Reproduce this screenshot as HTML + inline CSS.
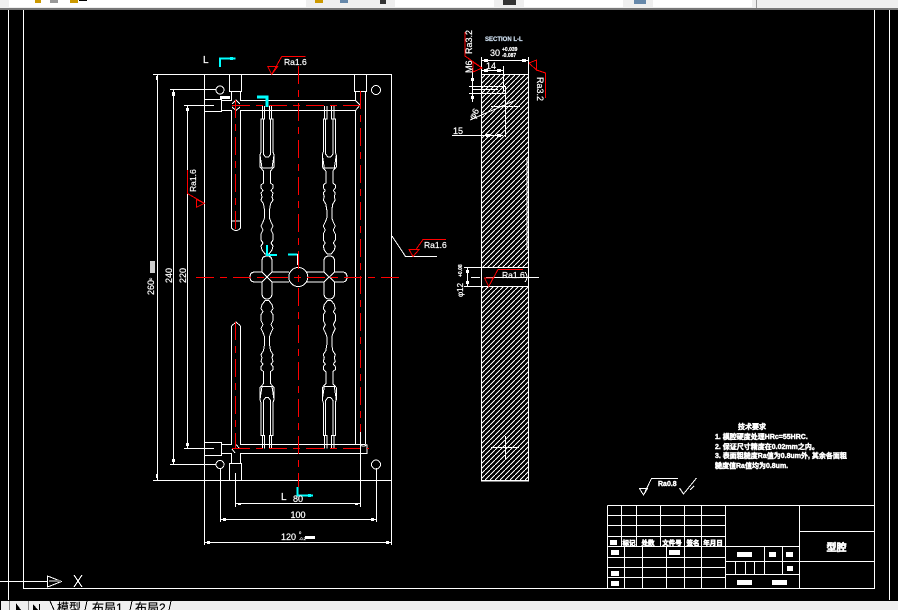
<!DOCTYPE html>
<html><head><meta charset="utf-8"><style>
html,body{margin:0;padding:0;background:#000;width:898px;height:610px;overflow:hidden}
svg{display:block;shape-rendering:crispEdges}
text{font-family:"Liberation Sans","Noto Sans CJK SC",sans-serif;fill:#fff;font-size:10px;stroke:#fff;stroke-width:.2}
.w{stroke:#fff;fill:none;stroke-width:1}
.r{stroke:#f00;fill:none;stroke-width:1}
.d{stroke:#f00;fill:none;stroke-width:1;stroke-dasharray:18 6 7 6}
.c{stroke:#0ff;fill:none;stroke-width:2}
.cn{font-size:7px;font-weight:bold;stroke:#fff;stroke-width:.45}
.t{font-size:6.500px;font-weight:bold;text-anchor:middle;stroke:#fff;stroke-width:.6}
</style></head><body>
<svg width="898" height="610" viewBox="0 0 898 610" xmlns="http://www.w3.org/2000/svg">
<defs>
<pattern id="h" width="5" height="5" patternUnits="userSpaceOnUse">
<rect width="5" height="5" fill="#000"/><path d="M0 5 5 0" stroke="#fff" stroke-width="1.100" fill="none"/>
</pattern>
<g id="run" class="w">
<path d="M-4.700 106V119H-6V152L-7 155V167L-3.500 171V183L-6 185V188L-4 190.500-6 193-5 197-6 200-3.500 204-2.500 210V218L-4 222-6 226-4 230-6 234V240L-4 243-6 246-5 250-2 254H2L5 250 6 246 4 243 6 240V234L4 230 6 226 4 222 2.500 218V210L3.500 204 6 200 5 197 6 193 4 190.500 6 188V185L3.500 183V171L7 167V155L6 152V119H4.700V106"/>
<path d="M-2.300 106V119H-3.700V154L-1.500 157H1.500L3.700 154V119H2.300V106"/>
<path d="M-7 155-5 168H5L7 155"/>
</g>
</defs>
<rect width="898" height="610" fill="#000"/>

<!-- toolbar -->
<rect x="0" y="0" width="898" height="10" fill="#efefef"/>
<rect x="0" y="8" width="898" height="2" fill="#777"/>
<rect x="9" y="0" width="297" height="7" fill="#fff"/>
<rect x="395" y="0" width="99" height="7" fill="#fff"/>
<rect x="524" y="0" width="99" height="7" fill="#fff"/>
<rect x="653" y="0" width="99" height="7" fill="#fff"/>
<rect x="756" y="0" width="1" height="8" fill="#999"/>
<rect x="35" y="0" width="6" height="3" fill="#c90"/>
<rect x="50" y="0" width="8" height="3" fill="#999"/>
<rect x="70" y="0" width="8" height="3" fill="#c90"/>
<rect x="79" y="0" width="8" height="1" fill="#000"/>
<rect x="315" y="0" width="8" height="3" fill="#c90"/>
<rect x="340" y="0" width="8" height="3" fill="#68a"/>
<rect x="380" y="0" width="6" height="4" fill="#333"/>
<rect x="503" y="0" width="13" height="5" fill="#333"/>
<rect x="634" y="0" width="12" height="4" fill="#68a"/>

<!-- frames -->
<path class="w" d="M8.500 10V600M23.500 10V588.500H874.500V10M889.500 10V600"/>

<!-- UCS icon -->
<path class="w" d="M0 581.500H47M47.500 576V587L61.500 581.500Z"/>
<path d="M49 580H61V582H49Z" fill="#777"/>
<path class="w" d="M74 575 82 587M82 575 74 587"/>

<!-- main plate -->
<g class="w">
<path d="M204.500 74.500H391.500V480.500H204.500Z"/>
<path d="M153 74.500H204M153 480.500H204"/>
<path d="M157.500 74.500V480.500M173.500 89.500V464.500M187.500 105.500V448.500"/>
<path d="M170 89.500H216M170 464.500H216M184 105.500H214M184 448.500H214"/>
<path d="M204.500 99.500H221.500V111.500H204.500M204.500 442.500H221.500V455.500H204.500"/>
<path d="M229.500 74.500V91.500H241.500V74.500M354.500 74.500V91.500H366.500V74.500M229.500 480.500V463.500H241.500V480.500"/>
<path d="M221 100.500H231.500V91.500M240.500 91.500V100.500H355.500V91.500M365.500 91.500V444"/>
<path d="M221 110.500H231.500V228M240.500 228V110.500H355.500V444.500"/>
<path d="M221 444.500H231.500V326M240.500 326V444.500H365.500M221 453.500H231.500V463.500M240.500 463.500V453.500H367V444.500"/>
</g>
<path class="w" d="M231.500 228Q236 233 240.500 228M231.500 326L236 322 240.500 326M232 221H240"/>
<path class="w" d="M232 104 236 100M240 104 236 100M232 107 236 110.500M240 107 236 110.500M355.500 100.500 360 105 355.500 110.500M232 449 235 453M240 449 236 444.500M360 444.500Q363 448 367 444.500"/>
<circle class="w" cx="220" cy="90" r="4"/><circle class="w" cx="376" cy="90" r="4.500"/>
<circle class="w" cx="220" cy="464.500" r="4"/><circle class="w" cx="376" cy="464.500" r="4.500"/>
<rect x="220" y="96" width="10" height="3" fill="#fff"/>

<!-- runners -->
<use href="#run" transform="translate(267,0)"/>
<use href="#run" transform="translate(329.300,0)"/>
<use href="#run" transform="matrix(1,0,0,-1,267,554.600)"/>
<use href="#run" transform="matrix(1,0,0,-1,329.300,554.600)"/>

<!-- crosses -->
<path class="w" d="M262 272V261Q262 256 267 256Q272 256 272 261V272L289 272M289 282H272V293Q272 299 267 299Q262 299 262 293V282H255Q250 282 250 277Q250 272 255 272H262"/>
<path class="w" d="M307 272H324V261Q324 256 329.300 256Q334.500 256 334.500 261V272H342Q347 272 347 277Q347 282 342 282H334.500V293Q334.500 299 329.300 299Q324 299 324 293V282H307"/>
<path class="w" d="M262 272 272 282M272 272 262 282M324 272 334.500 282M334.500 272 324 282"/>
<circle class="w" cx="298.300" cy="277" r="9.500"/>

<!-- red centre lines -->
<path class="d" d="M298.500 66V487"/>
<path class="d" d="M232 105.500H363"/>
<path class="d" d="M232 448.500H369"/>
<path class="d" d="M196 277.500H400"/>
<path class="d" d="M235.500 100V231"/>
<path class="d" d="M235.500 322V448"/>
<path class="d" d="M360.500 91V432"/>

<!-- cyan section marks -->
<path class="c" d="M220 67V58.500H235.500"/><rect x="230" y="57" width="3" height="3" fill="#0ff"/>
<path class="c" style="stroke-width:3" d="M257 97H267V107"/>
<path class="c" d="M267 245V255H277"/>
<path class="c" d="M288 254.500H297.500"/><path class="w" d="M297.500 254V265"/>
<path class="c" d="M297.500 487V495.500H313"/><rect x="308" y="494" width="3" height="3" fill="#0ff"/>
<text x="203" y="63" style="font-size:10px">L</text>
<text x="281" y="500" style="font-size:10px">L</text>

<!-- bottom dims -->
<g class="w">
<path d="M235.500 473V507M360.500 432V507M235.500 503.500H360.500"/>
<path d="M220.500 468V522M376.500 468V522M220.500 519.500H376.500"/>
<path d="M204.500 480V545M391.500 480V545M204.500 542.500H391.500"/>
</g>
<g fill="#fff">
<rect x="238" y="503" width="3" height="2"/><rect x="355" y="503" width="3" height="2"/>
<rect x="223" y="518" width="3" height="3"/><rect x="371" y="518" width="3" height="3"/>
<rect x="207" y="541" width="3" height="3"/><rect x="386" y="541" width="3" height="3"/>
<rect x="172" y="92" width="3" height="4"/><rect x="172" y="459" width="3" height="3"/>
<rect x="186" y="108" width="3" height="3"/><rect x="186" y="443" width="3" height="3"/>
<rect x="156" y="76" width="2" height="4"/><rect x="156" y="474" width="2" height="4"/>
</g>
<text x="298" y="502" text-anchor="middle" style="font-size:9px">80</text>
<text x="298" y="518" text-anchor="middle" style="font-size:9px">100</text>
<text x="281" y="540" style="font-size:9px">120</text>
<text x="299" y="534" style="font-size:4px">0</text>
<text x="299" y="540" style="font-size:4px">-0.2</text>
<rect x="305" y="536" width="10" height="3" fill="#fff"/>
<text transform="translate(154,295) rotate(-90)" style="font-size:9px">260</text>
<text transform="translate(152,280) rotate(-90)" style="font-size:4px">0</text>
<rect x="150" y="261" width="5" height="12" fill="#ccc"/>
<text transform="translate(172,283) rotate(-90)" style="font-size:9px">240</text>
<text transform="translate(186,283) rotate(-90)" style="font-size:9px">220</text>

<!-- roughness marks main view -->
<path class="r" d="M267.700 66.500H277.700L271.700 74.500ZM271.700 74.500 281.700 56.500H305.700"/>
<text x="284" y="65" style="font-size:8.500px">Ra1.6</text>
<path class="r" d="M187.500 170V193.500L204.300 203.300 196.300 207.300V199.300L204.300 203.300"/>
<text transform="translate(196,192) rotate(-90)" style="font-size:8.500px">Ra1.6</text>
<path class="w" d="M392 236 405.500 256.500H437"/>
<path class="r" d="M409 249.500H419L413 256.500ZM416 249.500 423 239.500H446"/>
<text x="424" y="248" style="font-size:8.500px">Ra1.6</text>

<!-- section view -->
<rect x="482" y="74.500" width="47" height="192.500" fill="url(#h)"/>
<rect x="482" y="286.500" width="47" height="194" fill="url(#h)"/>
<g class="w">
<path d="M481.500 57V481H528.500V57M481.500 74.500H528.500M481.500 480.500H528.500"/>
<path d="M481.500 267.500H528.500M481.500 286.500H528.500M464 267.500H481M464 286.500H481"/>
<path d="M481.500 60.500H528.500M481.500 70.500H503.500M503.500 66V92M505.500 92V137"/>
<path d="M469 86.500H505.500V93.500H469M472 89.500H498"/>
<path d="M472.500 68V102M467.500 268V286M452 135.500H503"/>
<path d="M491 106.500H520M505.500 98V115M491 447.500H519M505.500 436V459M471 277.500H480M486 277.500H539"/>
<path d="M527 158V250"/>
</g>
<path class="w" d="M470 120 516 100M525 272Q529 277 525 282"/>
<g fill="#fff">
<rect x="484" y="59" width="4" height="3"/><rect x="522" y="59" width="4" height="3"/>
<rect x="484" y="69" width="4" height="3"/><rect x="497" y="69" width="4" height="3"/>
<rect x="471" y="78" width="3" height="3"/><rect x="471" y="96" width="3" height="3"/>
<rect x="486" y="134" width="4" height="3"/><rect x="497" y="134" width="4" height="3"/>
<rect x="466" y="270" width="3" height="3"/><rect x="466" y="281" width="3" height="3"/>
</g>
<text x="485" y="41" style="font-size:6px;font-weight:bold;fill:#cde;stroke:#cde">SECTION L-L</text>
<text x="490" y="56" style="font-size:9px">30</text>
<text x="502" y="51" style="font-size:5px;font-weight:bold">+0.039</text>
<text x="502" y="57" style="font-size:5px;font-weight:bold">-0.087</text>
<text x="486" y="69" style="font-size:9px">14</text>
<text x="453" y="134" style="font-size:9px">15</text>
<text transform="translate(472,73) rotate(-90)" style="font-size:9px">M6</text>
<text transform="translate(474,120) rotate(-60)" style="font-size:9px">φ6</text>
<text transform="translate(463,297) rotate(-90)" style="font-size:8px">φ12</text>
<text transform="translate(462,277) rotate(-90)" style="font-size:5px;font-weight:bold">+0.08</text>
<path class="r" d="M465 32V56L482 68 473 72V62L482 68"/>
<text transform="translate(472,54) rotate(-90)" style="font-size:9px">Ra3.2</text>
<path class="r" d="M529 63 536.500 60V70L529 63M536.500 70 545.500 73V98"/>
<text transform="translate(537,77) rotate(90)" style="font-size:9px">Ra3.2</text>
<path class="r" d="M484.500 278H493L488.700 286.500ZM488.700 286.500 498 269.500H523"/>
<text x="502" y="278" style="font-size:8.500px">Ra1.6</text>

<!-- technical requirements -->
<text class="cn" x="738" y="429">技术要求</text>
<text class="cn" x="715" y="439">1. 模腔硬度处理HRc=55HRC.</text>
<text class="cn" x="715" y="449">2. 保证尺寸精度在0.02mm之内。</text>
<text class="cn" x="715" y="458">3. 表面粗糙度Ra值为0.8um外, 其余各面粗</text>
<text class="cn" x="715" y="468">糙度值Ra值均为0.8um.</text>
<path class="w" d="M639.500 488.500H647.500L643.500 495ZM643.500 495 651.500 478.500H678"/>
<text x="658" y="486" style="font-size:7px;font-weight:bold;stroke-width:.4">Ra0.8</text>
<path class="w" d="M679.500 488 683.500 494 696.500 478M690 490 694 486"/>

<!-- title block -->
<g class="w">
<path d="M607.500 505.500H874.500M607.500 505.500V588.500"/>
<path d="M607.500 515.500H725.500M607.500 525.500H725.500M607.500 536.500H725.500M607.500 546.500H799.500M607.500 557.500H725.500M607.500 567.500H725.500M607.500 577.500H725.500"/>
<path d="M621.500 505.500V546.500M636.500 505.500V546.500M660.500 505.500V546.500M684.500 505.500V546.500M701.500 505.500V546.500"/>
<path d="M624.500 546.500V588.500M642.500 546.500V588.500M666.500 546.500V588.500M684.500 546.500V588.500M701.500 546.500V588.500"/>
<path d="M725.500 505.500V588.500M799.500 505.500V588.500M725.500 561.500H874.500M725.500 574.500H799.500M799.500 531.500H874.500"/>
<path d="M764.500 546.500V574.500M782.500 546.500V574.500M735.500 561.500V574.500M745.500 561.500V574.500M754.500 561.500V574.500"/>
</g>
<g fill="#fff">
<rect x="610" y="540" width="7" height="5"/>
<rect x="611" y="550" width="8" height="5"/><rect x="669" y="550" width="11" height="5"/>
<rect x="611" y="571" width="8" height="5"/><rect x="611" y="581" width="8" height="5"/>
<rect x="737" y="552" width="15" height="5"/><rect x="769" y="552" width="7" height="5"/><rect x="786" y="552" width="7" height="5"/>
<rect x="787" y="566" width="6" height="5"/>
<rect x="737" y="580" width="15" height="5"/><rect x="772" y="580" width="15" height="5"/>
</g>
<text class="t" x="629" y="545">标记</text>
<text class="t" x="648" y="545">处数</text>
<text class="t" x="672" y="545">文件号</text>
<text class="t" x="693" y="545">签名</text>
<text class="t" x="713" y="545">年月日</text>
<text x="836.500" y="551" text-anchor="middle" style="font-size:10px;font-weight:bold;stroke-width:.6">型腔</text>

<!-- bottom tabs -->
<rect x="0" y="601" width="898" height="9" fill="#efefef"/>
<g fill="#000">
<rect x="0" y="601" width="1" height="9"/>
<path d="M16 603 21 610H16Z"/><path d="M33 604 38 610H33Z"/><rect x="39" y="604" width="1" height="6"/>
<rect x="9" y="601" width="1" height="9" fill="#888"/><rect x="28" y="601" width="1" height="9" fill="#888"/>
</g>
<path d="M50 601 54 610M87 601 85 610M132 601 130 610M171 601 169 610" stroke="#000" fill="none"/>
<text x="57" y="612" style="font-size:12px;fill:#000;stroke:#000">模型</text>
<text x="92" y="612" style="font-size:12px;fill:#000;stroke:#000">布局1</text>
<text x="135" y="612" style="font-size:12px;fill:#000;stroke:#000">布局2</text>
</svg>
</body></html>
